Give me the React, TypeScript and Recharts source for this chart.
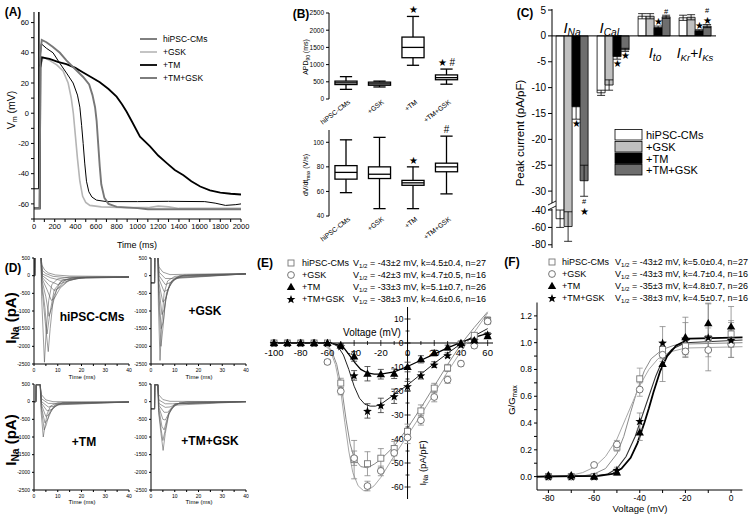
import React from "react";
import {
  LineChart,
  Line,
  XAxis,
  YAxis,
  ComposedChart,
  Bar,
  Scatter,
  ErrorBar,
  ReferenceLine,
  LabelList,
} from "recharts";

const FONT = "'Liberation Sans', Arial, Helvetica, sans-serif";

// ---------- (A) action potentials: [time ms, Vm mV] ----------
const A_HIPSC = [[0, -50], [45, -50], [47, 67], [49, -50], [55, 30], [70, 46], [120, 43], [184, 40], [250, 33], [320, 26], [378, 20], [420, 12], [443, 4], [460, -8], [475, -20], [490, -33], [507, -45], [530, -52], [560, -55.5], [604, -57.5], [700, -58.5], [1000, -58.5], [1300, -58.3], [1650, -58.5], [1750, -59.5], [1850, -61], [1950, -60.5], [2000, -60]];
const A_GSK = [[0, -63], [55, -63], [60, 30], [87, 37], [150, 35], [220, 32], [281, 28], [330, 20], [360, 10], [380, 0], [400, -15], [420, -30], [443, -45], [470, -55], [500, -59], [540, -61], [650, -62], [900, -62.5], [1100, -62.5], [1200, -61.5], [1300, -62], [1400, -63], [2000, -63]];
const A_TM = [[0, -63], [55, -63], [62, 30], [75, 37], [150, 36], [230, 34], [313, 32.5], [400, 30], [475, 27], [550, 24], [636, 20.5], [720, 16], [798, 11], [850, 6], [895, 1], [950, -6], [1024, -15.5], [1121, -22], [1200, -28], [1283, -33], [1360, -37.5], [1444, -41], [1520, -45], [1606, -48.5], [1700, -51], [1800, -52.5], [1900, -53.3], [2000, -53.8]];
const A_TMGSK = [[0, -63], [55, -63], [62, 40], [75, 48.5], [120, 47], [180, 44], [250, 40], [313, 35], [400, 29], [475, 24], [533, 19], [565, 12], [590, 4], [605, -5], [620, -20], [635, -35], [650, -47], [680, -56], [720, -60], [800, -62], [1000, -62.8], [1100, -63.5], [2000, -63.5]];
const A_XTICKS = [0, 100, 200, 300, 400, 500, 600, 700, 800, 900, 1000, 1100, 1200, 1300, 1400, 1500, 1600, 1700, 1800, 1900, 2000];
const A_YTICKS = [-70, -60, -50, -40, -30, -20, -10, 0, 10, 20, 30, 40, 50, 60];
const A_NAMES = ["hiPSC-CMs", "+GSK", "+TM", "+TM+GSK"];

// ---------- (B) box plots ----------
const B_GROUPS = ["hiPSC-CMs", "+GSK", "+TM", "+TM+GSK"];
const B_APD_MIN = [280, 350, 980, 430];
const B_APD_Q1 = [420, 400, 1200, 560];
const B_APD_MED = [470, 440, 1500, 620];
const B_APD_Q3 = [520, 490, 1800, 700];
const B_APD_MAX = [650, 520, 2400, 870];
const B_APD_MARK = ["", "", "★", "★ #"];
const B_APD_TICKS = [0, 500, 1000, 1500, 2000, 2500];
const B_DV_MIN = [59, 46, 46, 58];
const B_DV_Q1 = [70, 70.5, 65, 76];
const B_DV_MED = [75.5, 74, 67, 80];
const B_DV_Q3 = [81, 80, 69, 83];
const B_DV_MAX = [102, 104, 80, 105];
const B_DV_MARK = ["", "", "★", "#"];
const B_DV_TICKS = [40, 60, 80, 100];

// ---------- (C) peak currents ----------
const C_GROUPS = ["INa", "ICaL", "Ito", "IKr+IKs"];
const C_HIPSC = [-50, -11, 3.8, 3.5];
const C_HIPSC_ERR = [10, 0.5, 0.5, 0.5];
const C_GSK = [-59, -9.5, 3.8, 3.6];
const C_GSK_ERR = [17, 1, 0.5, 0.5];
const C_TM = [-13.7, -4, 1.6, 1.0];
const C_TM_ERR = [2.4, 0.5, 0.3, 0.2];
const C_TMGSK = [-28, -2.7, 3.7, 1.9];
const C_TMGSK_ERR = [3, 0.3, 0.3, 0.3];
const C_TM_MARK = ["★", "★", "★", "★"];
const C_TMGSK_MARK = ["#★", "★", "#", "★#"];
const C_TICKS = [5, 0, -5, -10, -15, -20, -25, -30, -40, -60, -80];

// ---------- (D) sodium current traces: [time ms, current pA] ----------
const D_STIM_A = [[0, 0], [0.3, 0], [0.4, 600], [2.9, 600]];
const D_STIM_B = [[0, -200], [1.5, -200], [1.6, 600], [2.9, 600]];
const D_STIM_C = [[0, 0], [0.8, 0], [0.9, 480], [2.6, 480]];
const D_STIM_D = [[0, -200], [1.5, -200], [1.6, 480], [2.9, 480]];
const D_HIPSC = [
  [[3.2, -600], [4.4, -2450], [5.2, -1500], [6.2, -700], [7.5, -250], [10, -90], [15, -40], [40, -40]],
  [[3.3, -300], [4.7, -1300], [6, -2150], [6.8, -1500], [8.2, -600], [11, -180], [16, -60], [40, -40]],
  [[3.3, -200], [4.6, -900], [5.5, -1650], [6.6, -1100], [8.5, -400], [12, -120], [18, -50], [40, -40]],
  [[3.4, -150], [5, -600], [6.3, -1150], [7.5, -900], [9.5, -400], [13, -130], [20, -50], [40, -40]],
  [[3.5, -100], [5.5, -400], [7.3, -700], [8.5, -650], [11, -350], [15, -120], [22, -50], [40, -40]],
  [[3.5, -50], [6, -250], [8.5, -420], [10.5, -350], [14, -150], [20, -60], [40, -40]],
  [[3.5, 0], [6.5, -150], [10, -250], [13, -180], [18, -80], [40, -40]],
  [[3.5, 50], [7, -60], [11, -130], [15, -100], [22, -50], [40, -40]],
  [[3.5, 150], [5, 60], [8, -20], [13, -50], [25, -40], [40, -40]],
  [[3.3, 300], [4.5, 160], [6, 80], [9, 20], [15, -10], [40, -25]],
];
const D_GSK = [
  [[3.1, -800], [3.8, -2400], [4.5, -1400], [5.5, -500], [7, -150], [10, -20], [20, 30], [40, 50]],
  [[3.2, -500], [4.2, -2000], [5, -1500], [6, -700], [8, -200], [12, 0], [40, 50]],
  [[3.2, -400], [4.3, -1500], [5.2, -1300], [6.5, -500], [9, -120], [14, 20], [40, 50]],
  [[3.3, -300], [4.6, -1100], [5.6, -950], [7, -400], [10, -80], [40, 50]],
  [[3.3, -200], [5, -750], [6.2, -650], [8, -250], [11, -50], [40, 50]],
  [[3.4, -100], [5.5, -450], [7, -400], [9, -150], [13, -20], [40, 50]],
  [[3.4, 0], [6, -250], [8, -200], [11, -60], [40, 50]],
  [[3.4, 100], [6, -80], [9, -80], [13, -10], [40, 50]],
  [[3.3, 250], [5, 100], [8, 30], [15, 40], [40, 60]],
];
const D_TM = [
  [[3, -300], [3.9, -1000], [4.6, -700], [5.5, -350], [7, -120], [10, -30], [40, -10]],
  [[3.1, -200], [4.3, -800], [5.2, -650], [6.5, -300], [9, -80], [40, -10]],
  [[3.1, -150], [4.6, -600], [5.8, -500], [7.5, -220], [10, -60], [40, -10]],
  [[3.2, -100], [5, -420], [6.5, -350], [8.5, -150], [12, -30], [40, -10]],
  [[3.2, -50], [5.5, -260], [7.5, -220], [10, -90], [40, -10]],
  [[3.2, 0], [6, -150], [8.5, -130], [12, -40], [40, -10]],
  [[3.2, 80], [6, -50], [10, -50], [40, -10]],
  [[3.1, 200], [5, 50], [8, 0], [40, -5]],
];
const D_TMGSK = [
  [[3.2, -300], [4.2, -900], [5.1, -1380], [6, -900], [7.5, -350], [10, -80], [15, 0], [40, 0]],
  [[3.2, -250], [4.3, -800], [5, -1100], [6, -800], [7.5, -300], [10, -60], [40, 0]],
  [[3.3, -200], [4.6, -700], [5.5, -800], [6.5, -550], [8.5, -200], [12, -30], [40, 0]],
  [[3.3, -150], [5, -500], [6, -520], [7.5, -330], [10, -100], [40, 0]],
  [[3.3, -100], [5.5, -300], [7, -300], [9, -150], [12, -40], [40, 0]],
  [[3.3, -50], [6, -160], [8, -150], [11, -60], [40, 0]],
  [[3.3, 50], [6, -60], [9, -60], [40, 0]],
  [[3.2, 200], [5, 60], [8, 10], [40, 0]],
];
const D_XTICKS = [0, 5, 10, 15, 20, 25, 30, 35, 40];
const D_YTICKS = [500, 0, -500, -1000, -1500, -2000, -2500];

// ---------- (E) I-V relation ----------
const E_V = [-100, -90, -80, -70, -60, -50, -40, -30, -20, -10, 0, 10, 20, 30, 40, 50, 60];
const E_HIPSC = [0, 0, 0, 0, 0, -16.7, -48.6, -50.3, -48, -44, -36.8, -28.3, -18.8, -10.4, -0.5, 3.2, 9.4];
const E_HIPSC_ERR = [0.5, 0.5, 0.5, 0.5, 0.5, 2, 8, 5, 4, 3, 3, 2.5, 2, 1.5, 1, 1, 1.5];
const E_GSK = [0, 0, 0, 0, -7.9, -20.1, -48, -59.6, -53.3, -45.8, -39.4, -32.2, -22.5, -15.3, -8.6, -1.1, 9];
const E_GSK_ERR = [0.5, 0.5, 0.5, 0.5, 1, 1.5, 3, 2, 2, 3, 2.5, 2, 2, 1.5, 1, 1, 1];
const E_TM = [0, 0, 0, 0, 0, -1, -5.6, -12.8, -13, -12.8, -10, -6.8, -4.2, -1.9, 0, 1.1, 2.8];
const E_TM_ERR = [0.3, 0.3, 0.3, 0.3, 0.3, 0.8, 2, 3, 2, 2, 2, 1.5, 1.2, 1, 0.8, 0.6, 0.8];
const E_TMGSK = [0, 0, 0, 0, 0, -1.4, -13.5, -28.3, -26, -22.2, -18, -13.5, -9, -5.1, -0.7, 1.1, 3.6];
const E_TMGSK_ERR = [0.3, 0.3, 0.3, 0.3, 0.3, 0.8, 2, 3, 3, 3, 2, 1.5, 1.2, 1, 0.8, 0.6, 0.8];
const E_FIT_HIPSC = [[-103, 0], [-62, 0], [-57, -3], [-53, -9], [-49, -20], [-46, -32], [-43, -42], [-40, -48], [-35, -51.5], [-30, -52], [-25, -50.5], [-20, -48.5], [-10, -43], [0, -35.5], [10, -27], [20, -18], [30, -9], [40, -0.5], [50, 6.5], [60, 13]];
const E_FIT_GSK = [[-103, 0], [-64, 0], [-58, -3], [-54, -9], [-50, -20], [-47, -33], [-44, -45], [-41, -54], [-37, -59.5], [-33, -61.5], [-30, -61.5], [-25, -59.5], [-20, -56], [-10, -47], [0, -38.5], [10, -30], [20, -21], [30, -12], [40, -3.5], [50, 4.5], [60, 12.5]];
const E_FIT_TM = [[-103, 0], [-58, 0], [-52, -0.8], [-47, -2.5], [-43, -5.5], [-39, -8.5], [-35, -11], [-30, -12.5], [-25, -13], [-20, -13], [-10, -12], [0, -9.8], [10, -7.2], [20, -4.6], [30, -2], [40, 0.3], [50, 2.3], [60, 4]];
const E_FIT_TMGSK = [[-103, 0], [-57, 0], [-52, -1.5], [-48, -5], [-44, -11], [-40, -18], [-36, -23], [-32, -25.5], [-28, -26.3], [-24, -26.3], [-20, -25.5], [-10, -21.5], [0, -17.5], [10, -13], [20, -8.5], [30, -4.3], [40, -0.3], [50, 3], [60, 6]];
const E_XTICKS = [-100, -90, -80, -70, -60, -50, -40, -30, -20, -10, 0, 10, 20, 30, 40, 50, 60];
const E_YTICKS = [10, 5, 0, -5, -10, -15, -20, -25, -30, -35, -40, -45, -50, -55, -60];
const E_LEGEND = [
  "V1/2 = -43±2 mV, k=4.5±0.4, n=27",
  "V1/2 = -42±3 mV, k=4.7±0.5, n=16",
  "V1/2 = -33±3 mV, k=5.1±0.7, n=26",
  "V1/2 = -38±3 mV, k=4.6±0.6, n=16",
];

// ---------- (F) activation ----------
const F_V = [-80, -70, -60, -50, -40, -30, -20, -10, 0];
const F_HIPSC = [0, 0, 0, 0.22, 0.73, 0.95, 0.975, 1.03, 1.065];
const F_HIPSC_ERR = [0.01, 0.01, 0.01, 0.03, 0.08, 0.05, 0.04, 0.08, 0.1];
const F_GSK = [0, 0, 0.087, 0.24, 0.65, 0.91, 0.935, 0.945, 0.99];
const F_GSK_ERR = [0.01, 0.01, 0.01, 0.03, 0.05, 0.05, 0.04, 0.05, 0.1];
const F_TM = [0.01, 0.01, 0, 0.03, 0.33, 0.84, 1.04, 1.145, 1.12];
const F_TM_ERR = [0.01, 0.01, 0.01, 0.02, 0.06, 0.13, 0.15, 0.15, 0.15];
const F_TMGSK = [0, 0, 0, 0.05, 0.415, 1.0, 1.03, 1.04, 1.02];
const F_TMGSK_ERR = [0.01, 0.01, 0.01, 0.02, 0.06, 0.12, 0.12, 0.25, 0.13];
const F_FIT_HIPSC = [[-85, 0], [-65, 0.005], [-60, 0.02], [-55, 0.06], [-50, 0.17], [-47, 0.3], [-44, 0.48], [-41, 0.65], [-38, 0.79], [-35, 0.88], [-30, 0.95], [-25, 0.98], [-20, 0.99], [5, 1.0]];
const F_FIT_GSK = [[-85, 0], [-70, 0.01], [-65, 0.03], [-60, 0.07], [-55, 0.15], [-50, 0.28], [-46, 0.44], [-43, 0.56], [-40, 0.68], [-36, 0.8], [-32, 0.88], [-27, 0.93], [-20, 0.96], [5, 0.97]];
const F_FIT_TM = [[-85, 0], [-58, 0.005], [-52, 0.02], [-48, 0.06], [-44, 0.14], [-41, 0.25], [-38, 0.4], [-36, 0.51], [-34, 0.63], [-31, 0.79], [-28, 0.9], [-24, 0.98], [-18, 1.03], [5, 1.04]];
const F_FIT_TMGSK = [[-85, 0], [-60, 0.005], [-54, 0.02], [-50, 0.06], [-46, 0.15], [-42, 0.3], [-39, 0.45], [-36, 0.6], [-33, 0.75], [-30, 0.87], [-26, 0.95], [-20, 1.0], [5, 1.02]];
const F_XTICKS = [-80, -70, -60, -50, -40, -30, -20, -10, 0];
const F_YTICKS = [0, 0.1, 0.2, 0.3, 0.4, 0.5, 0.6, 0.7, 0.8, 0.9, 1.0, 1.1, 1.2];
const F_LEGEND = [
  "V1/2 = -43±2 mV, k=5.0±0.4, n=27",
  "V1/2 = -43±3 mV, k=4.7±0.4, n=16",
  "V1/2 = -35±3 mV, k=4.8±0.7, n=26",
  "V1/2 = -38±3 mV, k=4.5±0.7, n=16",
];

const pts = (a: number[][]) => a.map(([x, y]) => ({ x, y }));
const withErr = (xs: number[], ys: number[], es: number[]) => xs.map((x, i) => ({ x, y: ys[i], e: es[i] }));

// break in the C axis: values below -40 are compressed
const cT = (v: number) => (v >= -33 ? v : v >= -40 ? -33 + (v + 33) * (0.66 / 7) : -33.66 + (v + 40) * 0.168);
const cErr = (v: number, e: number) => [cT(v) - cT(v - e), cT(v + e) - cT(v)];
const C_TICKS_T = C_TICKS.map(cT);

const Sub = ({ children }: any) => (
  <span style={{ fontSize: "0.68em", position: "relative", top: "0.32em" }}>{children}</span>
);

function T({ x, y, s = 9, b = false, it = false, r = 0, a = "middle", children }: any) {
  const tx = a === "middle" ? "-50%" : a === "end" ? "-100%" : "0";
  return (
    <div
      style={{
        position: "absolute",
        left: x,
        top: y,
        fontSize: s,
        fontWeight: b ? 700 : 400,
        fontStyle: it ? "italic" : "normal",
        lineHeight: 1,
        whiteSpace: "nowrap",
        transform: `translate(${tx},-50%) rotate(${r}deg)`,
      }}
    >
      {children}
    </div>
  );
}

const starPts = (cx: number, cy: number, R: number) =>
  Array.from({ length: 10 }, (_, k) => {
    const ang = -Math.PI / 2 + (k * Math.PI) / 5;
    const rr = k % 2 === 0 ? R : R * 0.42;
    return `${cx + rr * Math.cos(ang)},${cy + rr * Math.sin(ang)}`;
  }).join(" ");

function Sym({ kind, cx, cy }: any) {
  if (cx == null || cy == null) return null;
  if (kind === "sq") return <rect x={cx - 3} y={cy - 3} width={6} height={6} fill="#fff" stroke="#777" strokeWidth={0.9} />;
  if (kind === "ci") return <circle cx={cx} cy={cy} r={3.4} fill="#fff" stroke="#666" strokeWidth={0.9} />;
  if (kind === "tr") return <polygon points={`${cx},${cy - 4.2} ${cx + 4.2},${cy + 3} ${cx - 4.2},${cy + 3}`} fill="#000" />;
  return <polygon points={starPts(cx, cy + 0.5, 4.6)} fill="#000" />;
}

const axisTick = (s: number) => ({ fontSize: s, fill: "#000", fontFamily: FONT });

// ---------- panels ----------
function PanelA() {
  const series = [
    { d: A_HIPSC, c: "#000", w: 1 },
    { d: A_GSK, c: "#b5b5b5", w: 1.6 },
    { d: A_TM, c: "#000", w: 1.8 },
    { d: A_TMGSK, c: "#777", w: 1.9 },
  ];
  return (
    <div style={{ position: "absolute", left: 0, top: 0 }}>
      <LineChart width={250} height={250} margin={{ top: 12, right: 9, bottom: 0, left: 0 }}>
        <XAxis dataKey="x" type="number" domain={[0, 2000]} ticks={A_XTICKS} interval={0}
          tickFormatter={(v) => (v % 200 === 0 ? String(v) : "")} height={31} tickSize={3}
          tick={axisTick(7.5)} stroke="#000" allowDataOverflow />
        <YAxis dataKey="y" type="number" domain={[-70, 67]} ticks={A_YTICKS} interval={0}
          tickFormatter={(v) => (v % 20 === 0 ? String(v) : "")} width={34} tickSize={3}
          tick={axisTick(7.5)} stroke="#000" allowDataOverflow />
        {series.map((s, i) => (
          <Line key={A_NAMES[i]} data={pts(s.d)} dataKey="y" stroke={s.c} strokeWidth={s.w}
            dot={false} isAnimationActive={false} />
        ))}
      </LineChart>
    </div>
  );
}

const BoxShape = (p: any) => {
  const [lo, hi] = p.payload.range;
  const top = Math.min(p.y, p.y + p.height);
  const h = Math.abs(p.height);
  const py = (v: number) => top + ((hi - v) / (hi - lo)) * h;
  const cx = p.x + p.width / 2;
  const bw = p.width * 0.65;
  const cw = p.width * 0.36;
  return (
    <g stroke="#000" strokeWidth={1.3}>
      <line x1={cx} x2={cx} y1={py(hi)} y2={py(lo)} />
      <line x1={cx - cw / 2} x2={cx + cw / 2} y1={py(hi)} y2={py(hi)} />
      <line x1={cx - cw / 2} x2={cx + cw / 2} y1={py(lo)} y2={py(lo)} />
      <rect x={cx - bw / 2} y={py(p.payload.q3)} width={bw} height={py(p.payload.q1) - py(p.payload.q3)} fill="#fff" />
      <line x1={cx - bw / 2} x2={cx + bw / 2} y1={py(p.payload.med)} y2={py(p.payload.med)} />
    </g>
  );
};

const lblBox = (p: any) => {
  const vb = p.viewBox || {};
  return { x: p.x ?? vb.x, y: p.y ?? vb.y, w: p.width ?? vb.width, h: p.height ?? vb.height };
};

const BMark = (p: any) => {
  if (!p.value) return null;
  const b = lblBox(p);
  const top = Math.min(b.y, b.y + b.h);
  return (
    <text x={b.x + b.w / 2} y={top - 3} textAnchor="middle" fontSize={10} fontFamily={FONT}>{p.value}</text>
  );
};

const BTick = (p: any) => (
  <text x={p.x + 5} y={p.y + 2} textAnchor="end" fontSize={6.8} fontFamily={FONT}
    transform={`rotate(-38 ${p.x + 5} ${p.y + 2})`}>{p.payload.value}</text>
);

function BoxChart({ top, height, mt, xh, domain, ticks, mn, q1, md, q3, mx, mark }: any) {
  const data = B_GROUPS.map((g, i) => ({ g, range: [mn[i], mx[i]], q1: q1[i], med: md[i], q3: q3[i], mark: mark[i] }));
  return (
    <div style={{ position: "absolute", left: 290, top }}>
      <ComposedChart width={180} height={height} data={data} margin={{ top: mt, right: 7, bottom: 0, left: 0 }} barCategoryGap={0}>
        <XAxis dataKey="g" height={xh} axisLine={false} tickLine={false} tickSize={0} interval={0} tick={<BTick />} />
        <YAxis domain={domain} ticks={ticks} interval={0} width={39} tickSize={3} tick={axisTick(6.5)} stroke="#000" allowDataOverflow />
        <Bar dataKey="range" shape={BoxShape} isAnimationActive={false}>
          <LabelList dataKey="mark" content={BMark} />
        </Bar>
      </ComposedChart>
    </div>
  );
}

function PanelB() {
  return (
    <>
      <BoxChart top={0} height={140} mt={13} xh={41} domain={[0, 2500]} ticks={B_APD_TICKS}
        mn={B_APD_MIN} q1={B_APD_Q1} md={B_APD_MED} q3={B_APD_Q3} mx={B_APD_MAX} mark={B_APD_MARK} />
      <BoxChart top={120} height={140} mt={10} xh={44} domain={[40, 110]} ticks={B_DV_TICKS}
        mn={B_DV_MIN} q1={B_DV_Q1} md={B_DV_MED} q3={B_DV_Q3} mx={B_DV_MAX} mark={B_DV_MARK} />
    </>
  );
}

const cMark = (vals: number[], errs: number[], marks: string[]) => (p: any) => {
  const i = Number(p.value);
  const m = marks[i];
  if (!m) return null;
  const b = lblBox(p);
  const v = vals[i];
  const tv = cT(v);
  const h = Math.abs(b.h);
  const top = Math.min(b.y, b.y + b.h);
  const ppu = h / Math.abs(tv);
  const zeroY = v < 0 ? top : top + h;
  const endY = zeroY - cT(v < 0 ? v - errs[i] : v + errs[i]) * ppu;
  const cx = b.x + b.w / 2;
  return (
    <g>
      {Array.from(m).map((c, k) => (
        <text key={k} x={cx} y={v < 0 ? endY + 8 + k * 10.5 : endY - 1 - k * 10.5} textAnchor="middle"
          fontSize={c === "#" ? 7.5 : 9.5} fontFamily={FONT}>{c}</text>
      ))}
    </g>
  );
};

function PanelC() {
  const data = C_GROUPS.map((g, i) => ({
    g,
    i: String(i),
    h: cT(C_HIPSC[i]), hE: cErr(C_HIPSC[i], C_HIPSC_ERR[i]),
    s: cT(C_GSK[i]), sE: cErr(C_GSK[i], C_GSK_ERR[i]),
    t: cT(C_TM[i]), tE: cErr(C_TM[i], C_TM_ERR[i]),
    u: cT(C_TMGSK[i]), uE: cErr(C_TMGSK[i], C_TMGSK_ERR[i]),
  }));
  const bars = [
    { k: "h", f: "#fff" },
    { k: "s", f: "#c0c0c0" },
    { k: "t", f: "#000" },
    { k: "u", f: "#6e6e6e" },
  ];
  return (
    <div style={{ position: "absolute", left: 490, top: 0 }}>
      <ComposedChart width={260} height={258} data={data} margin={{ top: 9, right: 34, bottom: 10, left: 0 }} barCategoryGap="10%" barGap={0}>
        <XAxis dataKey="g" hide />
        <YAxis type="number" domain={[-41, 5.2]} ticks={C_TICKS_T} interval={0} width={62} tickSize={4}
          tickFormatter={(v) => String(C_TICKS[C_TICKS_T.indexOf(v)])} tick={axisTick(10)} stroke="#000" allowDataOverflow />
        <ReferenceLine y={0} stroke="#000" strokeWidth={1} />
        {bars.map((b) => (
          <Bar key={b.k} dataKey={b.k} fill={b.f} stroke="#000" strokeWidth={0.8} isAnimationActive={false}>
            <ErrorBar dataKey={b.k + "E"} direction="y" width={4} stroke="#000" strokeWidth={0.8} />
            {b.k === "t" && <LabelList dataKey="i" content={cMark(C_TM, C_TM_ERR, C_TM_MARK)} />}
            {b.k === "u" && <LabelList dataKey="i" content={cMark(C_TMGSK, C_TMGSK_ERR, C_TMGSK_MARK)} />}
          </Bar>
        ))}
      </ComposedChart>
    </div>
  );
}

function DChart({ left, top, stim, traces }: any) {
  return (
    <div style={{ position: "absolute", left, top }}>
      <LineChart width={135} height={130} margin={{ top: 8, right: 6, bottom: 0, left: 0 }}>
        <XAxis dataKey="x" type="number" domain={[0, 40]} ticks={D_XTICKS} interval={0}
          tickFormatter={(v) => (v % 10 === 0 ? String(v) : "")} height={16} tickSize={2}
          tick={axisTick(5)} stroke="#000" allowDataOverflow />
        <YAxis dataKey="y" type="number" domain={[-2500, 500]} ticks={D_YTICKS} interval={0} width={34}
          tickSize={2} tick={axisTick(5)} stroke="#000" allowDataOverflow />
        {traces.map((t: number[][], i: number) => (
          <Line key={i} data={pts([...stim, ...t])} dataKey="y" stroke="#5a5a5a" strokeWidth={0.6}
            dot={false} isAnimationActive={false} />
        ))}
      </LineChart>
    </div>
  );
}

function PanelD() {
  return (
    <>
      <DChart left={0} top={250} stim={D_STIM_A} traces={D_HIPSC} />
      <DChart left={117} top={250} stim={D_STIM_B} traces={D_GSK} />
      <DChart left={0} top={376} stim={D_STIM_C} traces={D_TM} />
      <DChart left={117} top={376} stim={D_STIM_D} traces={D_TMGSK} />
    </>
  );
}

const EXTick = (p: any) => {
  const major = p.payload.x % 20 === 0;
  const L = major ? 3 : 2;
  return (
    <g>
      <line x1={p.cx} x2={p.cx} y1={p.cy - L} y2={p.cy + L} stroke="#000" strokeWidth={0.8} />
      {major && (
        <text x={p.cx} y={p.cy + 13} textAnchor="middle" fontSize={9.5} fontFamily={FONT}>{p.payload.x}</text>
      )}
    </g>
  );
};

const EYTick = (p: any) => {
  const major = p.payload.y % 10 === 0;
  const L = major ? 3 : 2;
  return (
    <g>
      <line x1={p.cx - L} x2={p.cx + L} y1={p.cy} y2={p.cy} stroke="#000" strokeWidth={0.8} />
      {major && (
        <text x={p.cx - 4} y={p.cy + 3} textAnchor="end" fontSize={8.5} fontFamily={FONT}>{p.payload.y}</text>
      )}
    </g>
  );
};

function PanelE() {
  const xt = E_XTICKS.map((x) => ({ x, y: 0 }));
  const yt = E_YTICKS.map((y) => ({ x: 0, y }));
  return (
    <div style={{ position: "absolute", left: 255, top: 300 }}>
      <ComposedChart width={245} height={210} margin={{ top: 7, right: 7, bottom: 11, left: 15 }}>
        <XAxis dataKey="x" type="number" domain={[-103, 64]} hide />
        <YAxis dataKey="y" type="number" domain={[-65, 15]} hide />
        <ReferenceLine y={0} stroke="#000" strokeWidth={1} />
        <ReferenceLine x={0} stroke="#000" strokeWidth={1} />
        <Scatter data={xt} shape={EXTick} isAnimationActive={false} />
        <Scatter data={yt} shape={EYTick} isAnimationActive={false} />
        <Line data={pts(E_FIT_HIPSC)} dataKey="y" stroke="#8a8a8a" strokeWidth={1} dot={false} isAnimationActive={false} />
        <Line data={pts(E_FIT_GSK)} dataKey="y" stroke="#a8a8a8" strokeWidth={1} dot={false} isAnimationActive={false} />
        <Line data={pts(E_FIT_TM)} dataKey="y" stroke="#000" strokeWidth={1.3} dot={false} isAnimationActive={false} />
        <Line data={pts(E_FIT_TMGSK)} dataKey="y" stroke="#222" strokeWidth={1} dot={false} isAnimationActive={false} />
        <Scatter data={withErr(E_V, E_HIPSC, E_HIPSC_ERR)} shape={(p: any) => <Sym kind="sq" cx={p.cx} cy={p.cy} />} isAnimationActive={false}>
          <ErrorBar dataKey="e" direction="y" width={3} stroke="#888" strokeWidth={0.8} />
        </Scatter>
        <Scatter data={withErr(E_V, E_GSK, E_GSK_ERR)} shape={(p: any) => <Sym kind="ci" cx={p.cx} cy={p.cy} />} isAnimationActive={false}>
          <ErrorBar dataKey="e" direction="y" width={3} stroke="#888" strokeWidth={0.8} />
        </Scatter>
        <Scatter data={withErr(E_V, E_TM, E_TM_ERR)} shape={(p: any) => <Sym kind="tr" cx={p.cx} cy={p.cy} />} isAnimationActive={false}>
          <ErrorBar dataKey="e" direction="y" width={3} stroke="#333" strokeWidth={0.8} />
        </Scatter>
        <Scatter data={withErr(E_V, E_TMGSK, E_TMGSK_ERR)} shape={(p: any) => <Sym kind="st" cx={p.cx} cy={p.cy} />} isAnimationActive={false}>
          <ErrorBar dataKey="e" direction="y" width={3} stroke="#333" strokeWidth={0.8} />
        </Scatter>
      </ComposedChart>
    </div>
  );
}

function PanelF() {
  return (
    <div style={{ position: "absolute", left: 505, top: 295 }}>
      <ComposedChart width={245} height={223} margin={{ top: 7.5, right: 7.5, bottom: 0, left: 0 }}>
        <XAxis dataKey="x" type="number" domain={[-85, 5]} ticks={F_XTICKS} interval={0}
          tickFormatter={(v) => (v % 20 === 0 ? String(v) : "")} height={28} tickSize={3}
          tick={axisTick(8.5)} stroke="#000" />
        <YAxis dataKey="y" type="number" domain={[-0.1, 1.3]} ticks={F_YTICKS} interval={0} width={32}
          tickFormatter={(v) => (Math.round(v * 10) % 2 === 0 ? v.toFixed(1) : "")} tickSize={3}
          tick={axisTick(8.5)} stroke="#000" />
        <Line data={pts(F_FIT_HIPSC)} dataKey="y" stroke="#8a8a8a" strokeWidth={1} dot={false} isAnimationActive={false} />
        <Line data={pts(F_FIT_GSK)} dataKey="y" stroke="#a8a8a8" strokeWidth={1} dot={false} isAnimationActive={false} />
        <Line data={pts(F_FIT_TMGSK)} dataKey="y" stroke="#333" strokeWidth={1.1} dot={false} isAnimationActive={false} />
        <Line data={pts(F_FIT_TM)} dataKey="y" stroke="#000" strokeWidth={1.8} dot={false} isAnimationActive={false} />
        <Scatter data={withErr(F_V, F_HIPSC, F_HIPSC_ERR)} shape={(p: any) => <Sym kind="sq" cx={p.cx} cy={p.cy} />} isAnimationActive={false}>
          <ErrorBar dataKey="e" direction="y" width={3} stroke="#999" strokeWidth={0.8} />
        </Scatter>
        <Scatter data={withErr(F_V, F_GSK, F_GSK_ERR)} shape={(p: any) => <Sym kind="ci" cx={p.cx} cy={p.cy} />} isAnimationActive={false}>
          <ErrorBar dataKey="e" direction="y" width={3} stroke="#999" strokeWidth={0.8} />
        </Scatter>
        <Scatter data={withErr(F_V, F_TM, F_TM_ERR)} shape={(p: any) => <Sym kind="tr" cx={p.cx} cy={p.cy} />} isAnimationActive={false}>
          <ErrorBar dataKey="e" direction="y" width={3} stroke="#888" strokeWidth={0.8} />
        </Scatter>
        <Scatter data={withErr(F_V, F_TMGSK, F_TMGSK_ERR)} shape={(p: any) => <Sym kind="st" cx={p.cx} cy={p.cy} />} isAnimationActive={false}>
          <ErrorBar dataKey="e" direction="y" width={3} stroke="#888" strokeWidth={0.8} />
        </Scatter>
      </ComposedChart>
    </div>
  );
}

const SYM_KINDS = ["sq", "ci", "tr", "st"];
const C_LEGEND_FILL = ["#fff", "#c0c0c0", "#000", "#6e6e6e"];
const A_LEGEND_STYLE = [
  { c: "#000", w: 1 },
  { c: "#b5b5b5", w: 1.6 },
  { c: "#000", w: 1.8 },
  { c: "#777", w: 1.9 },
];

function VText({ t }: any) {
  const rest = t.replace("V1/2", "");
  return (
    <span>V<Sub>1/2</Sub>{rest}</span>
  );
}

function Overlay() {
  const eRows = [263, 275, 287, 299];
  const fRows = [262, 274, 286, 298];
  const aRows = [39, 52, 65, 78];
  const cRows = [135, 147, 158.5, 170];
  return (
    <>
      <svg width={750} height={518} style={{ position: "absolute", left: 0, top: 0, pointerEvents: "none" }}>
        {aRows.map((y, i) => (
          <line key={i} x1={140} x2={157} y1={y} y2={y} stroke={A_LEGEND_STYLE[i].c} strokeWidth={A_LEGEND_STYLE[i].w} />
        ))}
        {cRows.map((y, i) => (
          <rect key={i} x={615} y={y - 5.5} width={27} height={10.5} fill={C_LEGEND_FILL[i]} stroke="#000" strokeWidth={0.8} />
        ))}
        <rect x={549} y={203} width={6} height={6} fill="#fff" />
        <line x1={548} x2={556} y1={205} y2={201} stroke="#000" strokeWidth={0.9} />
        <line x1={548} x2={556} y1={210} y2={206} stroke="#000" strokeWidth={0.9} />
        {eRows.map((y, i) => <Sym key={"e" + i} kind={SYM_KINDS[i]} cx={291} cy={y} />)}
        {fRows.map((y, i) => <Sym key={"f" + i} kind={SYM_KINDS[i]} cx={552} cy={y} />)}
      </svg>

      {/* A */}
      <T x={13} y={12} s={12} b>(A)</T>
      <T x={12} y={110} s={10.5} r={-90}>V<Sub>m</Sub> (mV)</T>
      <T x={137} y={245} s={9}>Time (ms)</T>
      {aRows.map((y, i) => <T key={i} x={163} y={y} s={8.5} a="start">{A_NAMES[i]}</T>)}

      {/* B */}
      <T x={301} y={14} s={12} b>(B)</T>
      <T x={306} y={57} s={7} r={-90}>APD<Sub>90</Sub> (ms)</T>
      <T x={306} y={175} s={7} r={-90}>dV/dt<Sub>max</Sub> (V/s)</T>

      {/* C */}
      <T x={525} y={13} s={12} b>(C)</T>
      <T x={521} y={133} s={11.5} r={-90}>Peak current (pA/pF)</T>
      <T x={572} y={28} s={15} it>I<Sub>Na</Sub></T>
      <T x={611} y={28} s={15} it>I<Sub>CaL</Sub></T>
      <T x={655} y={53} s={15} it>I<Sub>to</Sub></T>
      <T x={695} y={53} s={14} it>I<Sub>Kr</Sub>+I<Sub>Ks</Sub></T>
      {cRows.map((y, i) => <T key={i} x={646} y={y} s={11} a="start">{A_NAMES[i]}</T>)}

      {/* D */}
      <T x={13} y={268} s={12} b>(D)</T>
      <T x={11} y={318} s={15} b r={-90}>I<Sub>Na</Sub> (pA)</T>
      <T x={11} y={440} s={15} b r={-90}>I<Sub>Na</Sub> (pA)</T>
      <T x={92} y={317} s={12} b>hiPSC-CMs</T>
      <T x={205} y={311} s={12} b>+GSK</T>
      <T x={84} y={442} s={12} b>+TM</T>
      <T x={210} y={441} s={12} b>+TM+GSK</T>
      <T x={82} y={377} s={6}>Time (ms)</T>
      <T x={199} y={377} s={6}>Time (ms)</T>
      <T x={82} y={502} s={6}>Time (ms)</T>
      <T x={199} y={502} s={6}>Time (ms)</T>

      {/* E */}
      <T x={265} y={263} s={12} b>(E)</T>
      {eRows.map((y, i) => <T key={"en" + i} x={302} y={y} s={9} a="start">{A_NAMES[i]}</T>)}
      {eRows.map((y, i) => <T key={"ev" + i} x={353} y={y} s={9} a="start"><VText t={E_LEGEND[i]} /></T>)}
      <T x={372} y={333} s={10}>Voltage (mV)</T>
      <T x={423} y={463} s={9.5} r={-90}>I<Sub>Na</Sub> (pA/pF)</T>

      {/* F */}
      <T x={512} y={262} s={12} b>(F)</T>
      {fRows.map((y, i) => <T key={"fn" + i} x={562} y={y} s={9} a="start">{A_NAMES[i]}</T>)}
      {fRows.map((y, i) => <T key={"fv" + i} x={615} y={y} s={9} a="start"><VText t={F_LEGEND[i]} /></T>)}
      <T x={640} y={509} s={9.5}>Voltage (mV)</T>
      <T x={512} y={400} s={9.5} r={-90}>G/G<Sub>max</Sub></T>
    </>
  );
}

export default function App() {
  return (
    <div style={{ position: "absolute", left: 0, top: 0, width: 750, height: 518, background: "#fff", overflow: "hidden", fontFamily: FONT, color: "#000" }}>
      <style>{`.recharts-surface{overflow:visible}`}</style>
      <PanelA />
      <PanelB />
      <PanelC />
      <PanelD />
      <PanelE />
      <PanelF />
      <Overlay />
    </div>
  );
}
